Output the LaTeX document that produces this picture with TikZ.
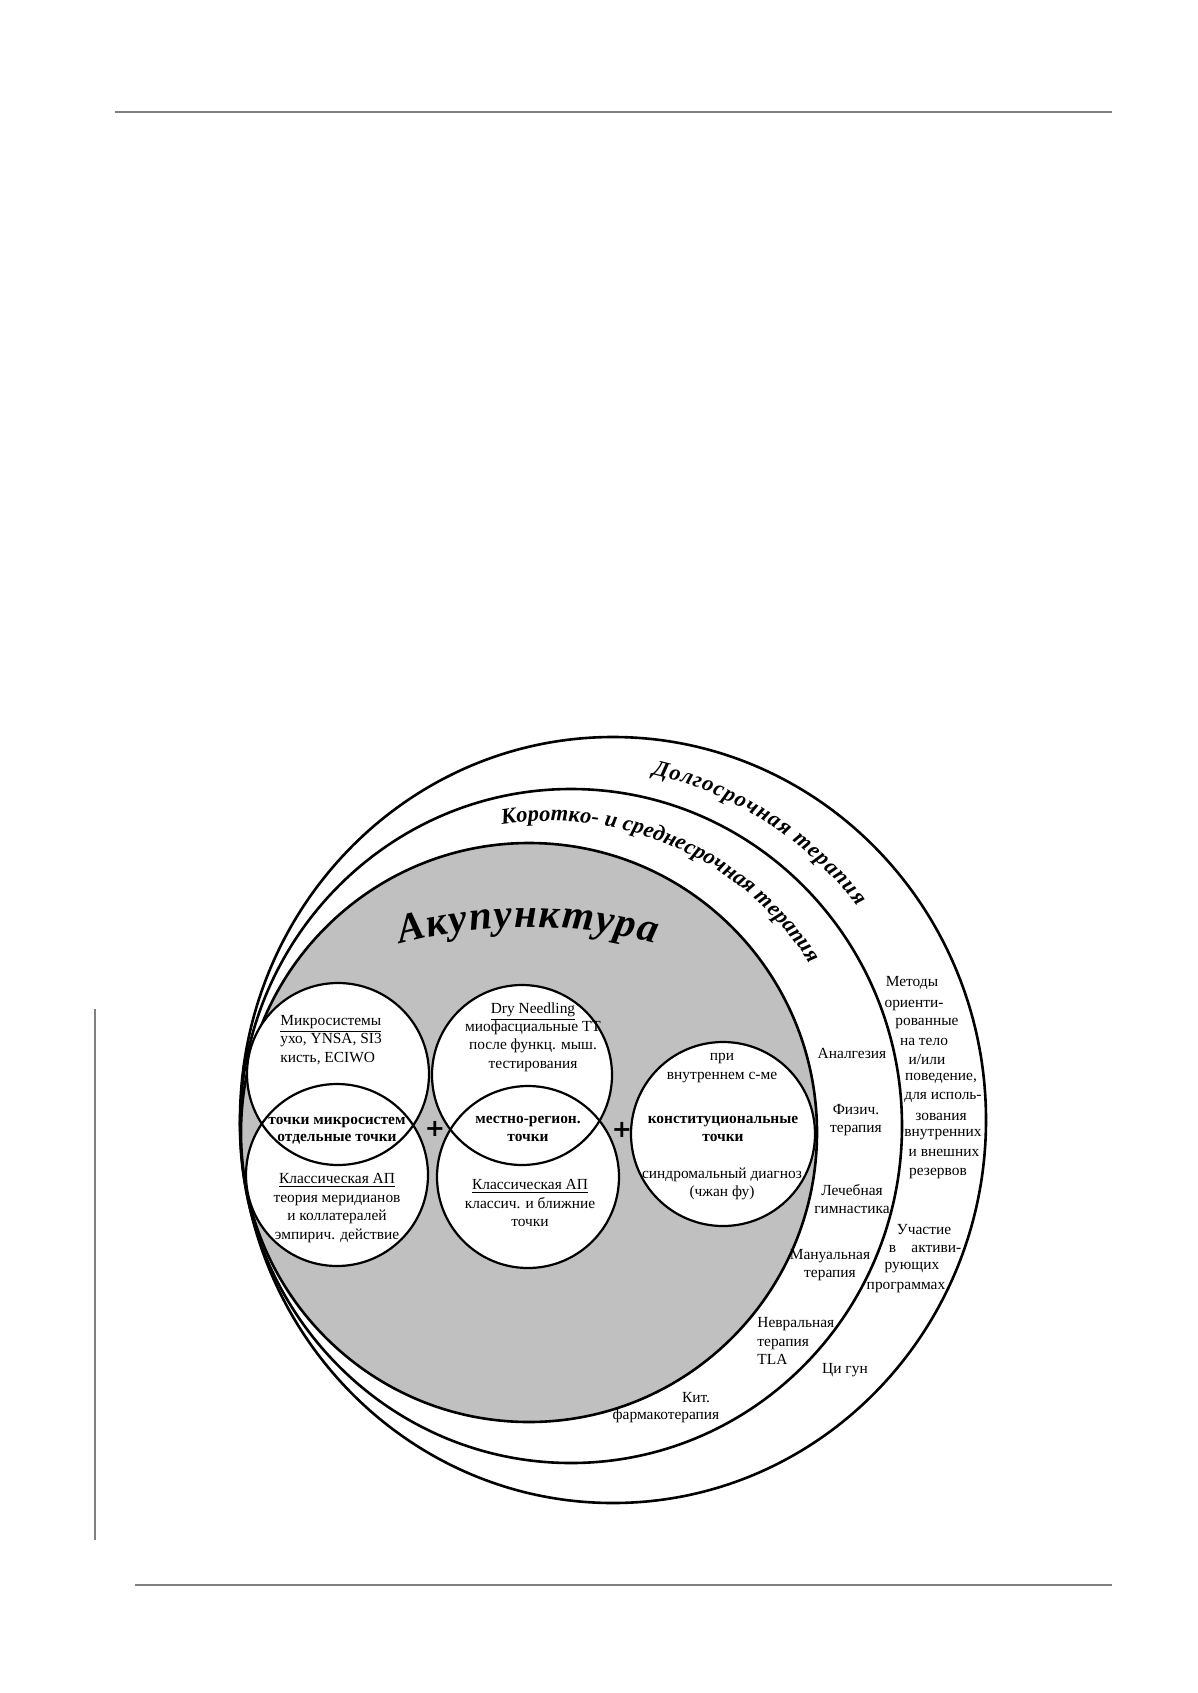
\documentclass[tikz,border=0pt]{standalone}
\usepackage{fontspec}
\setmainfont{Liberation Serif}
\newfontfamily\plusfont{DejaVu Sans}
\usetikzlibrary{decorations.text}
\definecolor{AcuGray}{RGB}{192,192,192}
\definecolor{RuleGray}{RGB}{128,128,128}
\newcommand\arcfont{\fontsize{11.2}{12}\selectfont\bfseries\itshape}
\newcommand\acufont{\fontsize{20.5}{24}\selectfont\bfseries\itshape}
\tikzset{
  ringline/.style={draw, line width=1.3pt},
  acuzone/.style={ringline, fill=AcuGray},
  ptcircle/.style={draw, line width=1.1pt},
  txt/.style={font=\fontsize{7.7}{9.2}\selectfont, align=center, inner sep=0pt},
  txtb/.style={txt, font=\fontsize{7.7}{8.6}\selectfont\bfseries},
  plussign/.style={font=\plusfont\fontsize{12}{12}\selectfont\bfseries, inner sep=0pt},
  pagerule/.style={line width=1pt, color=RuleGray},
  arclabel/.style={decorate, decoration={text along path, text align={fit to path}, text={#1}}},
}

\begin{document}
\begin{tikzpicture}[x=0.017544cm, y=-0.017544cm]
  \useasboundingbox (0,0) rectangle (1197,1693);
  % page rules
  \draw[pagerule] (115,112) -- (1112,112);
  \draw[pagerule] (95,1009) -- (95,1540);
  \draw[pagerule] (135,1585) -- (1112,1585);

  % therapy rings
  \draw[ringline, fill=white] (613,1120) ellipse [x radius=373, y radius=383];
  \draw[ringline, fill=white] (571,1126) ellipse [x radius=331, y radius=337];
  \draw[acuzone] (529,1132.5) ellipse [x radius=288, y radius=289.5];

  % point groups
  \foreach \cx/\cy/\r in {338/1074/91, 337/1175/91, 522/1075/90, 528/1177/91, 723/1134/92}
    \fill[white] (\cx,\cy) circle [radius=\r];
  \foreach \cx/\cy/\r in {338/1074/91, 337/1175/91, 522/1075/90, 528/1177/91, 723/1134/92}
    \draw[ptcircle] (\cx,\cy) circle [radius=\r];

  % curved titles
  \path[arclabel={|\arcfont|Долгосрочная терапия}]
    (571,1126) ++(-77:361) arc [start angle=-77, end angle=-37.5, radius=361];
  \path[arclabel={|\arcfont|Коротко- и среднесрочная терапия}]
    (550,1129) ++(-99:308) arc [start angle=-99, end angle=-32.5, radius=308];
  \path[arclabel={|\acufont|Акупунктура}]
    (528,1419) ++(-105:492) arc [start angle=-105, end angle=-75, radius=492];

  % inside the circles
  \node[txt, align=left, anchor=west] (microtxt) at (280,1040)
    {\underline{Микросистемы}\\ухо, YNSA, SI3\\кисть, ECIWO};
  \node[txtb] (microlens) at (337,1131) {точки микросистем\\отдельные точки};
  \node[txt] (classtxt) at (337,1208)
    {\underline{Классическая АП}\\теория меридианов\\и коллатералей\\эмпирич. действие};
  \node[txt] (drytxt) at (533,1037)
    {\underline{Dry Needling}\\миофасциальные ТТ\\после функц. мыш.\\тестирования};
  \node[txtb] (locallens) at (528,1129) {местно-регион.\\точки};
  \node[txt] (classtxtb) at (530,1203)
    {\underline{Классическая АП}\\классич. и ближние\\точки};
  \node[txt] (innertxt) at (722,1068) {при\\внутреннем с-ме};
  \node[txtb] (consttxt) at (723,1129) {конституциональные\\точки};
  \node[txt] (syndtxt) at (722,1184) {синдромальный диагноз\\(чжан фу)};
  \node[plussign] (plusa) at (435,1129) {+};
  \node[plussign] (plusb) at (622,1130) {+};

  % short and middle term ring
  \node[txt] (analg) at (852,1053) {Аналгезия};
  \node[txt] (physio) at (856,1120) {Физич.\\терапия};
  \node[txt] (gymn) at (852,1199) {Лечебная\\гимнастика};
  \node[txt] (manual) at (830,1265) {Мануальная\\терапия};
  \node[txt, align=left, anchor=west] (neural) at (757,1341) {Невральная\\терапия\\TLA};
  \node[txt] (kit) at (696,1398) {Кит.};
  \node[txt] (pharma) at (666,1416) {фармакотерапия};

  % long term ring
  \foreach \i/\x/\y/\t in {1/912/983/Методы, 2/914/1005/ориенти-,
      3/927/1023/рованные, 4/924/1042/на тело, 5/927/1059/{и/или},
      6/941/1078/{поведение,}, 7/943/1097/для исполь-, 8/941/1117/зования,
      9/943/1135/внутренних, 10/944/1153/и внешних, 11/938/1173/резервов}
    \node[txt] (body\i) at (\x,\y) {\t};
  \foreach \i/\x/\y/\t in {1/924/1230/Участие, 2/925/1249/{в\quad активи-},
      3/912/1268/рующих, 4/906/1287/программах}
    \node[txt] (part\i) at (\x,\y) {\t};
  \node[txt] (qigong) at (845,1370) {Ци гун};
\end{tikzpicture}
\end{document}
